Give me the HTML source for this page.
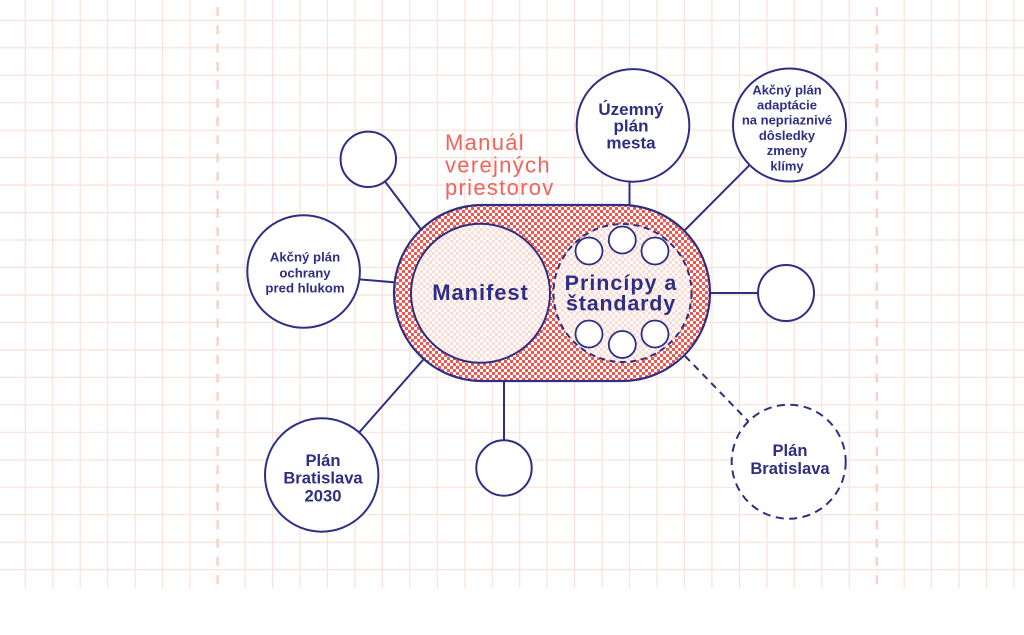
<!DOCTYPE html>
<html>
<head>
<meta charset="utf-8">
<style>
  html,body{margin:0;padding:0;background:#ffffff;}
  body{width:1024px;height:635px;overflow:hidden;}
  svg{display:block;}
  text{font-family:"Liberation Sans", sans-serif;}
</style>
</head>
<body>
<svg width="1024" height="635" viewBox="0 0 1024 635" xmlns="http://www.w3.org/2000/svg">
  <defs>
    <pattern id="redCheck" x="0" y="0" width="6" height="6" patternUnits="userSpaceOnUse">
      <rect x="0" y="0" width="6" height="6" fill="#ffffff"/>
      <rect x="0" y="0" width="3" height="3" fill="#f2574f"/>
      <rect x="3" y="3" width="3" height="3" fill="#f2574f"/>
    </pattern>
    <pattern id="pinkCheck" x="0" y="0" width="6" height="6" patternUnits="userSpaceOnUse">
      <rect x="0" y="0" width="6" height="6" fill="#ffffff"/>
      <rect x="0" y="0" width="3" height="3" fill="#fcdcd5"/>
      <rect x="3" y="3" width="3" height="3" fill="#fcdcd5"/>
    </pattern>
  </defs>

  <!-- grid -->
  <g stroke="#fbe1d9" stroke-width="1.2">
    <line x1="25.3" y1="0" x2="25.3" y2="588"/>
    <line x1="52.8" y1="0" x2="52.8" y2="588"/>
    <line x1="80.2" y1="0" x2="80.2" y2="588"/>
    <line x1="107.7" y1="0" x2="107.7" y2="588"/>
    <line x1="135.2" y1="0" x2="135.2" y2="588"/>
    <line x1="162.6" y1="0" x2="162.6" y2="588"/>
    <line x1="190.1" y1="0" x2="190.1" y2="588"/>
    <line x1="245.0" y1="0" x2="245.0" y2="588"/>
    <line x1="272.5" y1="0" x2="272.5" y2="588"/>
    <line x1="300.0" y1="0" x2="300.0" y2="588"/>
    <line x1="327.4" y1="0" x2="327.4" y2="588"/>
    <line x1="354.9" y1="0" x2="354.9" y2="588"/>
    <line x1="382.4" y1="0" x2="382.4" y2="588"/>
    <line x1="409.8" y1="0" x2="409.8" y2="588"/>
    <line x1="437.3" y1="0" x2="437.3" y2="588"/>
    <line x1="464.8" y1="0" x2="464.8" y2="588"/>
    <line x1="492.2" y1="0" x2="492.2" y2="588"/>
    <line x1="519.7" y1="0" x2="519.7" y2="588"/>
    <line x1="547.1" y1="0" x2="547.1" y2="588"/>
    <line x1="574.6" y1="0" x2="574.6" y2="588"/>
    <line x1="602.1" y1="0" x2="602.1" y2="588"/>
    <line x1="629.5" y1="0" x2="629.5" y2="588"/>
    <line x1="657.0" y1="0" x2="657.0" y2="588"/>
    <line x1="684.5" y1="0" x2="684.5" y2="588"/>
    <line x1="711.9" y1="0" x2="711.9" y2="588"/>
    <line x1="739.4" y1="0" x2="739.4" y2="588"/>
    <line x1="766.9" y1="0" x2="766.9" y2="588"/>
    <line x1="794.3" y1="0" x2="794.3" y2="588"/>
    <line x1="821.8" y1="0" x2="821.8" y2="588"/>
    <line x1="849.3" y1="0" x2="849.3" y2="588"/>
    <line x1="904.2" y1="0" x2="904.2" y2="588"/>
    <line x1="931.6" y1="0" x2="931.6" y2="588"/>
    <line x1="959.1" y1="0" x2="959.1" y2="588"/>
    <line x1="986.6" y1="0" x2="986.6" y2="588"/>
    <line x1="1014.0" y1="0" x2="1014.0" y2="588"/>
    <line x1="0" y1="20.3" x2="1024" y2="20.3"/>
    <line x1="0" y1="47.8" x2="1024" y2="47.8"/>
    <line x1="0" y1="75.2" x2="1024" y2="75.2"/>
    <line x1="0" y1="102.7" x2="1024" y2="102.7"/>
    <line x1="0" y1="130.2" x2="1024" y2="130.2"/>
    <line x1="0" y1="157.6" x2="1024" y2="157.6"/>
    <line x1="0" y1="185.1" x2="1024" y2="185.1"/>
    <line x1="0" y1="212.6" x2="1024" y2="212.6"/>
    <line x1="0" y1="240.0" x2="1024" y2="240.0"/>
    <line x1="0" y1="267.5" x2="1024" y2="267.5"/>
    <line x1="0" y1="295.0" x2="1024" y2="295.0"/>
    <line x1="0" y1="322.4" x2="1024" y2="322.4"/>
    <line x1="0" y1="349.9" x2="1024" y2="349.9"/>
    <line x1="0" y1="377.4" x2="1024" y2="377.4"/>
    <line x1="0" y1="404.8" x2="1024" y2="404.8"/>
    <line x1="0" y1="432.3" x2="1024" y2="432.3"/>
    <line x1="0" y1="459.8" x2="1024" y2="459.8"/>
    <line x1="0" y1="487.2" x2="1024" y2="487.2"/>
    <line x1="0" y1="514.7" x2="1024" y2="514.7"/>
    <line x1="0" y1="542.2" x2="1024" y2="542.2"/>
    <line x1="0" y1="569.6" x2="1024" y2="569.6"/>
  </g>
  <!-- dashed verticals -->
  <g stroke="#f9d2c7" stroke-width="2.5" stroke-dasharray="9 9.33">
    <line x1="217.6" y1="7" x2="217.6" y2="588"/>
    <line x1="876.8" y1="7" x2="876.8" y2="588"/>
  </g>

  <!-- connectors -->
  <g stroke="#2e2f84" stroke-width="2" fill="none">
    <line x1="368.3" y1="159.3" x2="432" y2="244"/>
    <line x1="358" y1="279.2" x2="402" y2="283"/>
    <line x1="321.7" y1="475" x2="430" y2="352"/>
    <line x1="504" y1="370" x2="504" y2="445"/>
    <line x1="700" y1="293" x2="762" y2="293"/>
    <line x1="629.5" y1="175" x2="629.5" y2="210"/>
    <line x1="789.5" y1="125" x2="680" y2="235"/>
    <line x1="685" y1="356" x2="749" y2="422" stroke-dasharray="7 5.5"/>
  </g>

  <!-- pill -->
  <rect x="394" y="205" width="316" height="176" rx="88" ry="88" fill="url(#redCheck)" stroke="#2e2f84" stroke-width="2.2"/>

  <!-- Manifest circle -->
  <circle cx="480.5" cy="293.3" r="69.5" fill="url(#pinkCheck)" stroke="#2e2f84" stroke-width="2"/>
  <!-- Principy dashed circle -->
  <circle cx="622.5" cy="293" r="69" fill="url(#pinkCheck)" stroke="#2e2f84" stroke-width="2" stroke-dasharray="6 4.5"/>

  <!-- small circles in principy -->
  <g fill="#ffffff" stroke="#2e2f84" stroke-width="1.8">
    <circle cx="589" cy="251" r="13.5"/>
    <circle cx="622.3" cy="240" r="13.5"/>
    <circle cx="655" cy="251" r="13.5"/>
    <circle cx="589" cy="334" r="13.5"/>
    <circle cx="622.3" cy="344.5" r="13.5"/>
    <circle cx="655" cy="334" r="13.5"/>
  </g>

  <!-- outer circles -->
  <g fill="#ffffff" stroke="#2e2f84" stroke-width="2">
    <circle cx="368.3" cy="159.3" r="27.7"/>
    <circle cx="303.6" cy="271.5" r="56.3"/>
    <circle cx="321.7" cy="475" r="56.7"/>
    <circle cx="504" cy="468" r="27.7"/>
    <circle cx="786" cy="293" r="28"/>
    <circle cx="633" cy="125.4" r="56.3"/>
    <circle cx="789.5" cy="125" r="56.5"/>
    <circle cx="788.7" cy="461.7" r="57" stroke-dasharray="8 5.5"/>
  </g>

  <!-- labels -->
  <g fill="#f2635b" font-size="22" letter-spacing="1.3">
    <text x="445" y="150">Manuál</text>
    <text x="445" y="172.5">verejných</text>
    <text x="445" y="195">priestorov</text>
  </g>

  <g fill="#2e2f84" font-weight="bold" text-anchor="middle">
    <text x="480.5" y="300" font-size="22" letter-spacing="0.9">Manifest</text>
    <text x="621" y="290" font-size="21.5" letter-spacing="1">Princípy a</text>
    <text x="621" y="310.5" font-size="21.5" letter-spacing="0.8">štandardy</text>

    <text x="631" y="115" font-size="17">Územný</text>
    <text x="631" y="131.7" font-size="17">plán</text>
    <text x="631" y="148.3" font-size="17">mesta</text>

    <text x="787" y="94.3" font-size="13">Akčný plán</text>
    <text x="787" y="109.5" font-size="13">adaptácie</text>
    <text x="787" y="124.7" font-size="13">na nepriaznivé</text>
    <text x="787" y="139.9" font-size="13">dôsledky</text>
    <text x="787" y="155.1" font-size="13">zmeny</text>
    <text x="787" y="170.3" font-size="13">klímy</text>

    <text x="305" y="261.7" font-size="13.2">Akčný plán</text>
    <text x="305" y="277.3" font-size="13.2">ochrany</text>
    <text x="305" y="292.7" font-size="13.2">pred hlukom</text>

    <text x="323" y="466" font-size="16.6">Plán</text>
    <text x="323" y="483.3" font-size="16.6">Bratislava</text>
    <text x="323" y="501.7" font-size="16.6">2030</text>

    <text x="790" y="456" font-size="16.6">Plán</text>
    <text x="790" y="474" font-size="16.6">Bratislava</text>
  </g>
</svg>
</body>
</html>
